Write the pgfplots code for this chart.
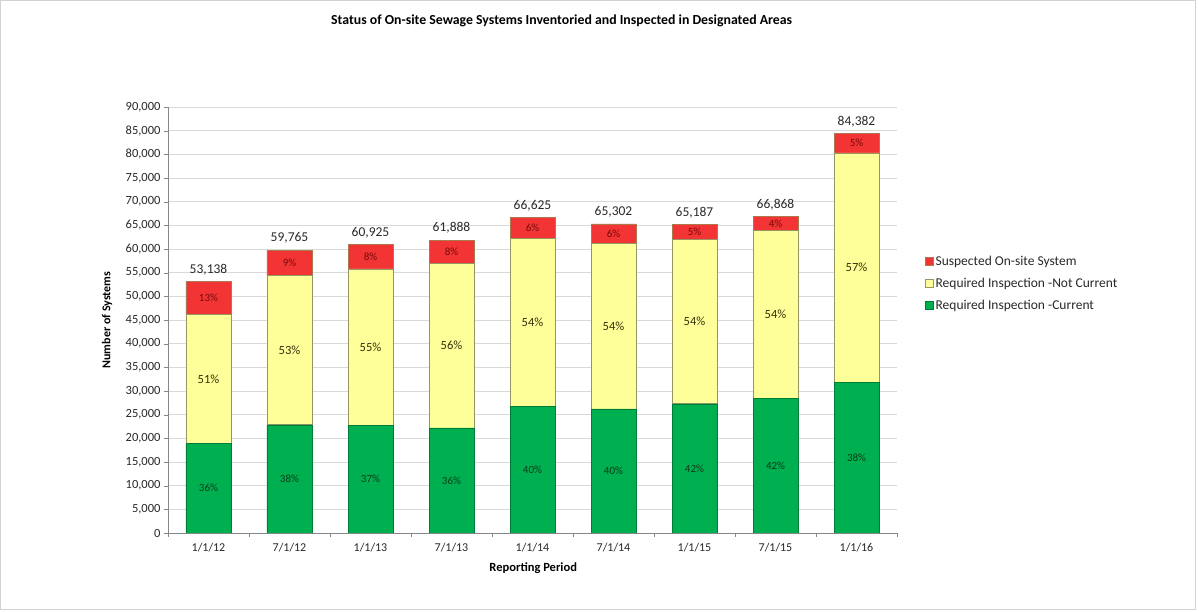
\documentclass[border=0pt]{standalone}
\usepackage{pgfplots}
\pgfplotsset{compat=1.18}
\usepackage{pgfplotstable}
\usepackage{fontspec}
\setmainfont{Carlito}
\definecolor{cgreen}{RGB}{0,176,80}
\definecolor{cyellow}{RGB}{255,255,153}
\definecolor{cred}{RGB}{242,52,52}
\definecolor{cedge}{RGB}{150,150,100}
\definecolor{gridc}{RGB}{217,217,217}
\definecolor{axc}{RGB}{134,134,134}
\definecolor{txt}{RGB}{40,40,40}
\pgfplotstableread{
x green gp yellow yp red rp tl
0 19000 36 27100 51 7038 13 53,138
1 22850 38 31550 53 5365 9 59,765
2 22700 37 33100 55 5125 8 60,925
3 22200 36 34800 56 4888 8 61,888
4 26700 40 35500 54 4425 6 66,625
5 26200 40 34900 54 4202 6 65,302
6 27300 42 34800 54 3087 5 65,187
7 28400 42 35500 54 2968 4 66,868
8 31900 38 48400 57 4082 5 84,382
}\data
\pgfplotsset{
  common/.style={
    at={(0,0)}, anchor=south west,
    scale only axis, width=729pt, height=426pt,
    xmin=-0.5, xmax=8.5, ymin=0, ymax=90000,
  }
}
\begin{document}
\begin{tikzpicture}
\path (-168pt,-79pt) rectangle (1031pt,533pt);
\draw[gray!35, line width=0.8pt] (-167.5pt,-76pt) rectangle (1027pt,532.5pt);
\begin{axis}[
  common, name=ax,
  ybar stacked, bar width=45pt,
  xtick={0,...,8},
  xticklabels={1/1/12,7/1/12,1/1/13,7/1/13,1/1/14,7/1/14,1/1/15,7/1/15,1/1/16},
  minor xtick={-0.5,0.5,...,8.5},
  ytick={0,5000,...,90000},
  scaled y ticks=false,
  /pgf/number format/assume math mode=true,
  yticklabel style={/pgf/number format/.cd, fixed, 1000 sep={,}},
  ticklabel style={font=\fontsize{12.5}{14}\selectfont, text=txt},
  xticklabel style={yshift=-3pt, font=\fontsize{12}{14}\selectfont},
  axis x line*=bottom, axis y line*=left,
  x axis line style={-, draw=axc}, y axis line style={-, draw=axc},
  major x tick style={draw=none},
  minor x tick style={draw=axc},
  y tick style={draw=axc},
  tick align=outside, major tick length=4pt, minor tick length=4pt,
  ymajorgrids, grid style={draw=gridc, line width=0.8pt},
  title={Status of On-site Sewage Systems Inventoried and Inspected in Designated Areas},
  title style={at={(0.540,1.188)}, anchor=center, font=\fontsize{13.8}{16}\selectfont\bfseries, text=black},
  xlabel={Reporting Period},
  xlabel style={at={(0.501,-0.082)}, anchor=center, font=\fontsize{12.5}{14}\selectfont\bfseries, text=black},
  ylabel={Number of Systems},
  ylabel style={at={(-0.0837,0.5)}, anchor=center, font=\fontsize{12}{14}\selectfont\bfseries, text=black},
  reverse legend,
  legend style={at={(1.034,0.660)}, anchor=north west, draw=none, fill=none,
    font=\fontsize{13.5}{15}\selectfont, text=txt, row sep=7pt, cells={anchor=west}},
  legend image code/.code={\draw[#1, line width=0.6pt] (0pt,-4pt) rectangle (8pt,4pt);},
]
\addplot[fill=cgreen, draw=cgreen!70!black, line width=0.5pt]
  table[x=x, y=green]{\data};
\addlegendentry{Required Inspection -Current}
\addplot[fill=cyellow, draw=cedge, line width=0.7pt]
  table[x=x, y=yellow]{\data};
\addlegendentry{Required Inspection -Not Current}
\addplot[fill=cred, draw=cedge!80!red, line width=0.7pt]
  table[x=x, y=red]{\data};
\addlegendentry{Suspected On-site System}
\end{axis}
\begin{axis}[
  common, axis lines=none, xtick=\empty, ytick=\empty,
  point meta=explicit symbolic,
  nodes near coords={\pgfplotspointmeta},
  every node near coord/.append style={anchor=center},
]
\addplot[draw=none, no marks, nodes near coords={\pgfplotspointmeta\%},
  every node near coord/.append style={font=\fontsize{11}{12}\selectfont, text={rgb,255:red,10;green,60;blue,25}}]
  table[x=x, y expr=\thisrow{green}/2, meta=gp]{\data};
\addplot[draw=none, no marks, nodes near coords={\pgfplotspointmeta\%},
  every node near coord/.append style={font=\fontsize{12.5}{14}\selectfont, text={rgb,255:red,50;green,50;blue,10}}]
  table[x=x, y expr=\thisrow{green}+\thisrow{yellow}/2, meta=yp]{\data};
\addplot[draw=none, no marks, nodes near coords={\pgfplotspointmeta\%},
  every node near coord/.append style={font=\fontsize{11}{12}\selectfont, text={rgb,255:red,120;green,10;blue,10}}]
  table[x=x, y expr=\thisrow{green}+\thisrow{yellow}+\thisrow{red}/2, meta=rp]{\data};
\addplot[draw=none, no marks, nodes near coords={\pgfplotspointmeta},
  every node near coord/.append style={yshift=12pt, font=\fontsize{13.5}{15}\selectfont, text=txt}]
  table[x=x, y expr=\thisrow{green}+\thisrow{yellow}+\thisrow{red}, meta=tl]{\data};
\end{axis}
\end{tikzpicture}
\end{document}
